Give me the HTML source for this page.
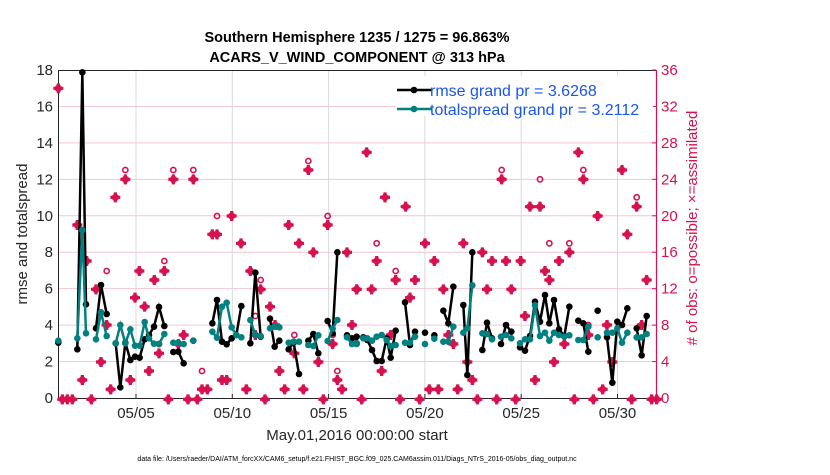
<!DOCTYPE html>
<html><head><meta charset="utf-8"><style>
body{margin:0;background:#fff;width:830px;height:470px;overflow:hidden}
svg{font-family:"Liberation Sans",Arial,sans-serif}
</style></head><body>
<svg id="s" width="830" height="470" viewBox="0 0 830 470" xmlns="http://www.w3.org/2000/svg">
<text x="357" y="42" font-size="14.5" font-weight="bold" text-anchor="middle">Southern Hemisphere 1235 / 1275 = 96.863%</text>
<text x="357" y="62" font-size="14.5" font-weight="bold" text-anchor="middle">ACARS_V_WIND_COMPONENT @ 313 hPa</text>
<g id="grid"></g>
<rect x="58.5" y="70.5" width="598" height="328" fill="none" stroke="#262626" stroke-width="1"/>
<line x1="656.5" y1="70" x2="656.5" y2="398" stroke="#d6124e" stroke-width="1.2"/>
<g id="ticks" font-size="15"></g>
<text transform="translate(27,234) rotate(-90)" font-size="15" text-anchor="middle" fill="#262626">rmse and totalspread</text>
<text transform="translate(697,228) rotate(-90)" font-size="15" text-anchor="middle" fill="#d6124e"># of obs: o=possible; ×=assimilated</text>
<text x="357" y="440" font-size="15" text-anchor="middle" fill="#262626">May.01,2016 00:00:00 start</text>
<text x="357" y="461" font-size="7" text-anchor="middle">data file: /Users/raeder/DAI/ATM_forcXX/CAM6_setup/f.e21.FHIST_BGC.f09_025.CAM6assim.011/Diags_NTrS_2016-05/obs_diag_output.nc</text>
<g id="data"></g>
<rect x="395" y="76" width="258" height="40" fill="#fff"/>
<line x1="397" y1="90" x2="432" y2="90" stroke="#000" stroke-width="2.5"/><circle cx="414" cy="90" r="3.3"/>
<line x1="397" y1="109" x2="432" y2="109" stroke="#008080" stroke-width="2.5"/><circle cx="414" cy="109" r="3.3" fill="#008080"/>
<text x="430" y="96" font-size="16" fill="#1a55ee">rmse grand pr = 3.6268</text>
<text x="430" y="115" font-size="16" fill="#1a55ee">totalspread grand pr = 3.2112</text>
</svg>
<script>
const NS="http://www.w3.org/2000/svg";
function el(p,t,a){const e=document.createElementNS(NS,t);for(const k in a)e.setAttribute(k,a[k]);p.appendChild(e);return e;}
const g=document.getElementById('grid'),tk=document.getElementById('ticks'),d=document.getElementById('data');
for(let i=1;i<9;i++){const y=398-i*328/9;el(g,'line',{x1:58,x2:656,y1:y,y2:y,stroke:'#f2c6d4','stroke-width':1});}
const dates=['05/05','05/10','05/15','05/20','05/25','05/30'];
dates.forEach((t,i)=>{const x=136+i*96.3;el(g,'line',{x1:x,x2:x,y1:70,y2:398,stroke:'#d9d9d9','stroke-width':1});
 const e=el(tk,'text',{x:x,y:418,'text-anchor':'middle',fill:'#262626'});e.textContent=t;
 el(tk,'line',{x1:x,x2:x,y1:398,y2:394,stroke:'#262626'});});
for(let i=0;i<=9;i++){const y=398-i*328/9;
 let e=el(tk,'text',{x:53,y:y+5,'text-anchor':'end',fill:'#262626'});e.textContent=i*2;
 e=el(tk,'text',{x:661,y:y+5,fill:'#d6124e'});e.textContent=i*4;
 el(tk,'line',{x1:656,x2:652,y1:y,y2:y,stroke:'#d6124e'});}
function cv(a,o){return a.map(p=>p?[o+p[0]/3,60+p[1]/3]:null);}
function series(pts,col){let seg=[];const flush=()=>{if(seg.length>1)el(d,'polyline',{points:seg.map(p=>p.join(',')).join(' '),fill:'none',stroke:col,'stroke-width':2.5});seg=[];};
 pts.forEach(p=>{if(!p){flush();return;}if(seg.length&&p[0]-seg[seg.length-1][0]>6)flush();seg.push(p);});flush();
 pts.forEach(p=>{if(p)el(d,'circle',{cx:p[0],cy:p[1],r:3.3,fill:col});});}
const b1=[[25,848],[82,868],[97,37],[108,733],[138,805],[153,675],[170,762],[197,850],[211,982],[226,848],[241,900],[255,890],[269,893],[284,838],[297,825],[312,800],[327,741],[343,798],[370,876],[385,875],[401,910],[430,842],[487,790],[501,720],[516,845],[530,853],[545,835],[559,825],[574,738],[601,850],[616,638],[632,830],[660,776],[674,860],[688,842],[716,868],[731,848],[747,942],[775,842],[790,822],[805,880],[833,783],[848,820],[862,577],[891,826],[906,835],[920,830]];
const t1=[[25,842],[82,835],[97,510],[108,820],[138,838],[153,757],[170,828],[197,850],[211,795],[226,850],[241,808],[255,857],[269,857],[284,786],[297,835],[312,851],[327,852],[343,822],[370,848],[385,848],[401,852],[430,842],[487,815],[501,833],[516,740],[530,728],[545,802],[559,825],[574,832],[601,780],[616,825],[632,828],[660,805],[674,800],[688,802],[716,848],[731,845],[747,845],[775,855],[790,858],[805,826],[833,843],[848,806],[862,780],[891,832],[906,852],[920,850]];
const b2=[[20,850],[40,832],[52,840],[66,870],[80,903],[95,903],[110,835],[122,893],[137,812],[165,727],[180,855],[195,815],[225,818],[253,826],[280,752],[295,790],[310,680],[340,735],[352,945],[367,577],[397,870],[411,788],[426,835],[453,852],[468,795],[484,815],[510,862],[525,872],[540,828],[555,725],[570,785],[585,705],[598,790],[612,720],[627,808],[643,828],[658,740],[685,782],[700,790],[715,875],[743,752],[771,832],[787,968],[802,785],[816,795],[832,745],[860,805],[875,886],[890,768]];
const t2=[[20,852],[40,835],[52,835],[66,842],[80,830],[95,825],[110,840],[122,858],[137,855],[165,848],[180,848],[195,830],[225,852],[253,836],[280,845],[295,845],[310,800],[340,818],[352,805],[367,676],[397,820],[411,822],[426,838],[453,830],[468,825],[484,835],[510,850],[525,838],[540,838],[555,736],[570,828],[585,818],[598,842],[612,818],[627,825],[643,830],[658,826],[685,840],[700,840],[715,800],[743,832],[771,818],[787,818],[802,805],[816,848],[832,818],[860,832],[875,832],[890,822]];
const m1=[[25,85],[37,1018],[52,1018],[67,1018],[82,495],[97,960],[110,603],[124,1018],[138,688],[153,906],[170,795],[182,988],[196,412],[226,358],[241,960],[255,713],[268,633],[284,740],[297,933],[313,660],[327,880],[343,633],[355,1018],[370,358],[385,852],[401,825],[414,1018],[430,358],[442,1018],[456,988],[472,988],[487,523],[501,523],[516,960],[530,960],[545,468],[573,550],[589,988],[601,633],[616,825],[632,688],[645,1018],[660,740],[675,795],[688,933],[704,988],[716,495],[733,880],[747,550],[760,988],[775,330],[790,577],[805,906],[820,1018],[833,495],[848,852],[862,960],[876,988],[891,577],[906,795],[920,688]];
const c1=[[170,633],[226,330],[327,852],[343,603],[370,330],[430,330],[456,933],[501,468],[616,768],[632,660],[733,825],[775,303],[833,468],[848,825],[862,933]];
const m2=[[20,688],[35,1018],[50,277],[65,688],[80,603],[95,933],[105,412],[122,825],[137,660],[150,1018],[167,440],[180,713],[195,660],[209,1018],[225,550],[238,988],[253,603],[265,988],[280,688],[295,825],[310,852],[323,988],[340,550],[352,906],[367,960],[382,1018],[397,577],[411,688],[426,603],[440,1018],[455,358],[468,603],[484,688],[497,1018],[512,603],[525,768],[540,440],[555,960],[570,440],[585,633],[598,660],[612,906],[627,603],[643,852],[658,577],[673,1018],[685,277],[700,358],[715,825],[730,1018],[743,468],[758,988],[771,795],[787,906],[802,110],[816,330],[832,523],[845,1018],[860,440],[875,795],[890,660],[905,1018],[920,1018]];
const c2=[[80,550],[137,633],[455,330],[570,358],[598,550],[658,550],[700,330],[715,795],[802,85],[860,412]];
const MC='#d6124e';
function mark(p){const[x,y]=p;el(d,'path',{d:`M${x-1.6},${y-5}h3.2v3.4h3.4v3.2h-3.4v3.4h-3.2v-3.4h-3.4v-3.2h3.4z`,fill:MC});el(d,'rect',{x:x-3.6,y:y-3.6,width:7.2,height:7.2,fill:MC,transform:`rotate(45 ${x} ${y})`,opacity:0.9});}
function circ(p){el(d,'circle',{cx:p[0],cy:p[1],r:2.6,fill:'none',stroke:MC,'stroke-width':1.6});}
cv(m1,50).forEach(mark);cv(m2,350).forEach(mark);cv(c1,50).forEach(circ);cv(c2,350).forEach(circ);
series(cv(b1,50).concat(cv(b2,350)),'#000');
series(cv(t1,50).concat(cv(t2,350)),'#008080');
</script>
</body></html>
